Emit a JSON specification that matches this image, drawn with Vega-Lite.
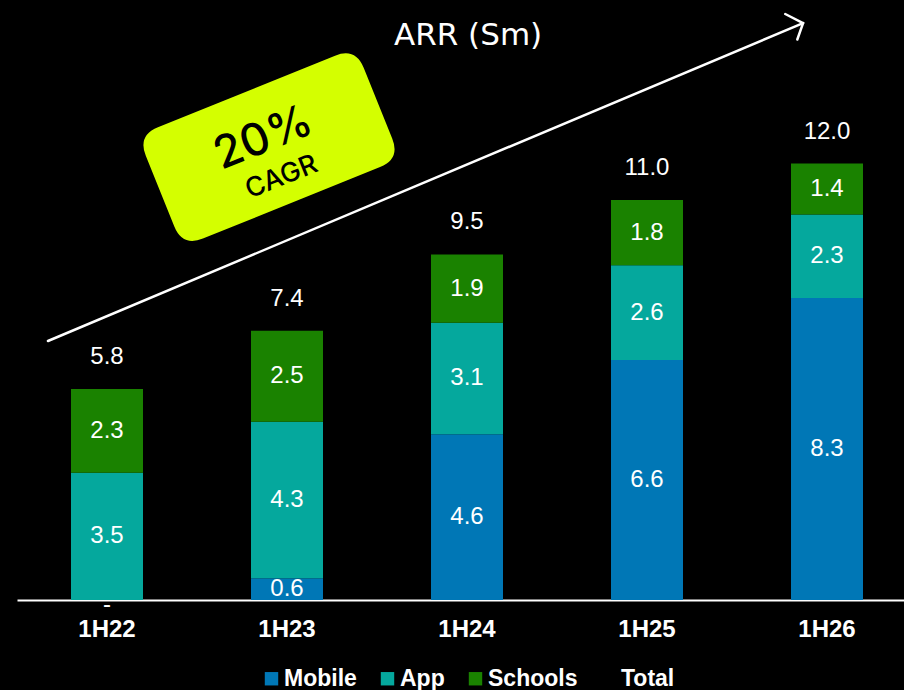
{
  "$schema": "https://vega.github.io/schema/vega-lite/v6.json",
  "width": 900,
  "height": 582,
  "autosize": {"type": "none"},
  "padding": {"left": 17, "top": 18, "right": 0, "bottom": 90},
  "background": "black",
  "config": {
    "view": {"stroke": null},
    "font": "Liberation Sans",
    "legend": {"layout": {"bottom": {"anchor": "middle"}}}
  },
  "datasets": {
    "arr": [
      {"period": "1H22", "segment": "Mobile", "value": 0},
      {"period": "1H22", "segment": "App", "value": 3.5},
      {"period": "1H22", "segment": "Schools", "value": 2.3},
      {"period": "1H23", "segment": "Mobile", "value": 0.6},
      {"period": "1H23", "segment": "App", "value": 4.3},
      {"period": "1H23", "segment": "Schools", "value": 2.5},
      {"period": "1H24", "segment": "Mobile", "value": 4.56},
      {"period": "1H24", "segment": "App", "value": 3.06},
      {"period": "1H24", "segment": "Schools", "value": 1.88},
      {"period": "1H25", "segment": "Mobile", "value": 6.6},
      {"period": "1H25", "segment": "App", "value": 2.6},
      {"period": "1H25", "segment": "Schools", "value": 1.8},
      {"period": "1H26", "segment": "Mobile", "value": 8.3},
      {"period": "1H26", "segment": "App", "value": 2.3},
      {"period": "1H26", "segment": "Schools", "value": 1.4}
    ],
    "totals": [
      {"period": "1H22", "total": 5.8},
      {"period": "1H23", "total": 7.4},
      {"period": "1H24", "total": 9.5},
      {"period": "1H25", "total": 11.0},
      {"period": "1H26", "total": 12.0}
    ],
    "arrow": [
      {"part": "shaft", "k": 0, "i": -0.328, "v": 7.12},
      {"part": "shaft", "k": 1, "i": 3.867, "v": 15.86},
      {"part": "head", "k": 0, "i": 3.768, "v": 16.11},
      {"part": "head", "k": 1, "i": 3.867, "v": 15.86},
      {"part": "head", "k": 2, "i": 3.835, "v": 15.41}
    ]
  },
  "resolve": {"scale": {"x": "independent"}, "axis": {"x": "independent"}},
  "layer": [
    {
      "layer": [
        {
          "data": {"name": "arr"},
          "transform": [
            {"calculate": "indexof(['Mobile','App','Schools'], datum.segment)", "as": "rank"},
            {"stack": "value", "groupby": ["period"], "sort": [{"field": "rank", "order": "ascending"}], "as": ["y0", "y1"]},
            {"calculate": "(datum.y0 + datum.y1) / 2", "as": "mid"}
          ],
          "layer": [
            {
              "mark": {"type": "bar"},
              "encoding": {
                "x": {
                  "field": "period", "type": "nominal", "sort": null,
                  "scale": {"paddingInner": 0.6, "paddingOuter": 0.3},
                  "axis": {
                    "title": null, "labelAngle": 0, "domainColor": "white", "domainWidth": 2,
                    "ticks": false, "tickSize": 0, "labelColor": "white", "labelFont": "Liberation Sans",
                    "labelFontWeight": "bold", "labelFontSize": 24, "labelPadding": 17
                  }
                },
                "y": {"field": "y0", "type": "quantitative", "scale": {"domain": [0, 16], "nice": false}, "axis": null},
                "y2": {"field": "y1"},
                "color": {
                  "field": "segment", "type": "nominal",
                  "scale": {"domain": ["Mobile", "App", "Schools", "Total"], "range": ["#0077b6", "#05a89d", "#1a8200", "rgba(0,0,0,0)"]},
                  "legend": {
                    "title": null, "orient": "bottom", "direction": "horizontal", "symbolType": "square",
                    "symbolSize": 180, "symbolStrokeWidth": 0, "labelColor": "white", "labelFontSize": 23,
                    "labelFontWeight": "bold", "labelFont": "Liberation Sans", "columnPadding": 19,
                    "labelOffset": 1, "offset": 26
                  }
                }
              }
            },
            {
              "transform": [{"filter": "datum.value > 0"}],
              "mark": {"type": "text", "color": "white", "fontSize": 24, "baseline": "middle", "align": "center"},
              "encoding": {
                "x": {"field": "period", "type": "nominal", "sort": null},
                "y": {"field": "mid", "type": "quantitative", "scale": {"domain": [0, 16], "nice": false}, "axis": null},
                "text": {"field": "value", "type": "quantitative", "format": ".1f"}
              }
            },
            {
              "transform": [{"filter": "datum.value === 0"}],
              "mark": {"type": "text", "color": "white", "fontSize": 24, "baseline": "middle", "align": "center", "dy": 5, "text": "-"},
              "encoding": {
                "x": {"field": "period", "type": "nominal", "sort": null},
                "y": {"field": "mid", "type": "quantitative", "scale": {"domain": [0, 16], "nice": false}, "axis": null}
              }
            }
          ]
        },
        {
          "data": {"name": "totals"},
          "mark": {"type": "text", "color": "white", "fontSize": 24, "baseline": "middle", "align": "center", "dy": -32},
          "encoding": {
            "x": {"field": "period", "type": "nominal", "sort": null},
            "y": {"field": "total", "type": "quantitative", "scale": {"domain": [0, 16], "nice": false}, "axis": null},
            "text": {"field": "total", "type": "quantitative", "format": ".1f"}
          }
        }
      ]
    },
    {
      "layer": [
        {
          "data": {"name": "arrow"},
          "mark": {"type": "line", "color": "white", "strokeWidth": 2.5, "strokeCap": "round"},
          "encoding": {
            "x": {"field": "i", "type": "quantitative", "scale": {"domain": [-0.5, 4.5], "nice": false, "zero": false}, "axis": null},
            "y": {"field": "v", "type": "quantitative", "scale": {"domain": [0, 16], "nice": false}, "axis": null},
            "detail": {"field": "part"},
            "order": {"field": "k"}
          }
        },
        {
          "data": {"values": [{}]},
          "mark": {
            "type": "point",
            "shape": "M -0.813,-0.511 L 0.813,-0.511 Q 1,-0.511 1,-0.324 L 1,0.324 Q 1,0.511 0.813,0.511 L -0.813,0.511 Q -1,0.511 -1,0.324 L -1,-0.324 Q -1,-0.511 -0.813,-0.511 Z",
            "size": 55225, "filled": true, "fill": "#d4ff00", "opacity": 1, "strokeWidth": 0, "angle": -22
          },
          "encoding": {
            "x": {"datum": 0.9, "type": "quantitative", "scale": {"domain": [-0.5, 4.5], "nice": false, "zero": false}, "axis": null},
            "y": {"datum": 12.45, "type": "quantitative", "scale": {"domain": [0, 16], "nice": false}, "axis": null}
          }
        },
        {
          "data": {"values": [{}]},
          "mark": {"type": "text", "text": "20%", "font": "Inter", "fontSize": 45, "fontWeight": 500, "color": "black", "angle": -22, "align": "center", "baseline": "middle"},
          "encoding": {
            "x": {"datum": 0.869, "type": "quantitative", "scale": {"domain": [-0.5, 4.5], "nice": false, "zero": false}, "axis": null},
            "y": {"datum": 12.7, "type": "quantitative", "scale": {"domain": [0, 16], "nice": false}, "axis": null}
          }
        },
        {
          "data": {"values": [{}]},
          "mark": {"type": "text", "text": "CAGR", "font": "Inter", "fontSize": 27, "fontWeight": 500, "color": "black", "angle": -22, "align": "center", "baseline": "middle"},
          "encoding": {
            "x": {"datum": 0.97, "type": "quantitative", "scale": {"domain": [-0.5, 4.5], "nice": false, "zero": false}, "axis": null},
            "y": {"datum": 11.62, "type": "quantitative", "scale": {"domain": [0, 16], "nice": false}, "axis": null}
          }
        },
        {
          "data": {"values": [{}]},
          "mark": {"type": "text", "text": "ARR (Sm)", "font": "DejaVu Sans", "fontSize": 31, "color": "white", "align": "center", "baseline": "middle"},
          "encoding": {
            "x": {"datum": 2.006, "type": "quantitative", "scale": {"domain": [-0.5, 4.5], "nice": false, "zero": false}, "axis": null},
            "y": {"datum": 15.5, "type": "quantitative", "scale": {"domain": [0, 16], "nice": false}, "axis": null}
          }
        }
      ]
    }
  ]
}
